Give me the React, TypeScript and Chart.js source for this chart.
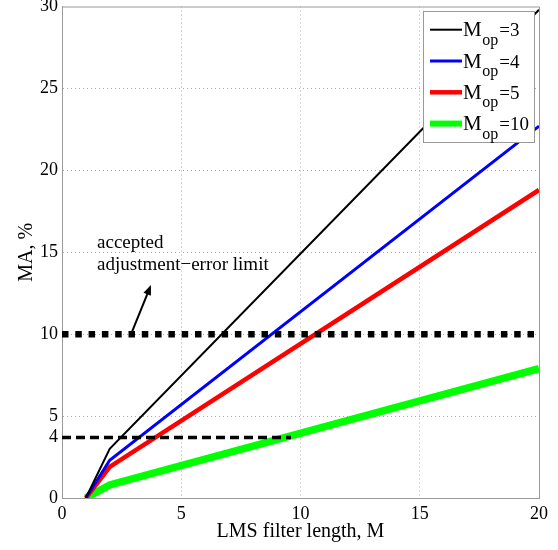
import React, { useEffect, useRef } from "react";
import { Chart, registerables } from "chart.js";

Chart.register(...registerables);

// ---- data ----
const filterLength = [1, 2, 20];
const maMop3 = [0, 3.0, 29.8];
const maMop4 = [0, 2.3, 22.7];
const maMop5 = [0, 1.9, 18.8];
const maMop10 = [0, 0.8, 7.9];
const mopValues = ["3", "4", "5", "10"];
const seriesColors = ["#000000", "#0000ff", "#ff0000", "#00ff00"];
const seriesWidths = [2, 3, 4.5, 7.5];

const limitX = [0, 20];
const limitY = [10, 10];
const limit4X = [0, 9.6];
const limit4Y = [3.7, 3.7];

const yTickValues = [0, 3.7, 5, 10, 15, 20, 25, 30];
const yTickLabels = ["0", "4", "5", "10", "15", "20", "25", "30"];
const yGridValues = [5, 10, 15, 20, 25];
const xGridValues = [5, 10, 15];

const annotationLines = ["accepted", "adjustment\u2212error limit"];
const annotationAnchor = { x: 1.47, y1: 15.26, y2: 13.92 };
const arrowTail = { x: 2.93, y: 10.13 };
const arrowHead = { x: 3.73, y: 13.0 };

const xTitle = "LMS filter length, M";
const yTitle = "MA, %";

const FONT = "'Liberation Serif', 'Times New Roman', serif";

const toPoints = (xs: number[], ys: number[]) => xs.map((x, i) => ({ x, y: ys[i] }));

const overlayPlugin = {
  id: "overlay",
  afterDraw(chart: any) {
    const ctx = chart.ctx as CanvasRenderingContext2D;
    const { left, right, top, bottom } = chart.chartArea;
    const xs = chart.scales.x;
    const ys = chart.scales.y;
    ctx.save();

    // top and right border of axes box
    ctx.strokeStyle = "#999";
    ctx.lineWidth = 1;
    ctx.beginPath();
    ctx.moveTo(left, top + 0.5);
    ctx.lineTo(right + 0.5, top + 0.5);
    ctx.lineTo(right + 0.5, bottom);
    ctx.stroke();

    // annotation text
    ctx.fillStyle = "#000";
    ctx.font = `19px ${FONT}`;
    ctx.textAlign = "left";
    ctx.textBaseline = "alphabetic";
    const ax = xs.getPixelForValue(annotationAnchor.x);
    ctx.fillText(annotationLines[0], ax, ys.getPixelForValue(annotationAnchor.y1));
    ctx.fillText(annotationLines[1], ax, ys.getPixelForValue(annotationAnchor.y2));

    // arrow
    const tx = xs.getPixelForValue(arrowTail.x);
    const ty = ys.getPixelForValue(arrowTail.y);
    const hx = xs.getPixelForValue(arrowHead.x);
    const hy = ys.getPixelForValue(arrowHead.y);
    const ang = Math.atan2(hy - ty, hx - tx);
    ctx.strokeStyle = "#000";
    ctx.lineWidth = 2;
    ctx.beginPath();
    ctx.moveTo(tx, ty);
    ctx.lineTo(hx - Math.cos(ang) * 6, hy - Math.sin(ang) * 6);
    ctx.stroke();
    ctx.beginPath();
    ctx.moveTo(hx, hy);
    ctx.lineTo(hx - Math.cos(ang) * 10 + Math.cos(ang + Math.PI / 2) * 4, hy - Math.sin(ang) * 10 + Math.sin(ang + Math.PI / 2) * 4);
    ctx.lineTo(hx - Math.cos(ang) * 10 - Math.cos(ang + Math.PI / 2) * 4, hy - Math.sin(ang) * 10 - Math.sin(ang + Math.PI / 2) * 4);
    ctx.closePath();
    ctx.fill();

    // axis titles
    ctx.font = `20px ${FONT}`;
    ctx.textAlign = "center";
    ctx.textBaseline = "alphabetic";
    ctx.fillText(xTitle, (left + right) / 2, 537);
    ctx.save();
    ctx.translate(32, (top + bottom) / 2);
    ctx.rotate(-Math.PI / 2);
    ctx.fillText(yTitle, 0, 0);
    ctx.restore();

    // legend
    const bx = 423, by = 11, bw = 111, bh = 131;
    ctx.fillStyle = "#fff";
    ctx.fillRect(bx, by, bw, bh);
    ctx.strokeStyle = "#999";
    ctx.lineWidth = 1;
    ctx.strokeRect(bx + 0.5, by + 0.5, bw, bh);
    mopValues.forEach((m, i) => {
      const ly = 29.7 + i * 31.3;
      ctx.strokeStyle = seriesColors[i];
      ctx.lineWidth = Math.min(seriesWidths[i], 6);
      ctx.beginPath();
      ctx.moveTo(430, ly);
      ctx.lineTo(462, ly);
      ctx.stroke();
      ctx.fillStyle = "#000";
      ctx.textAlign = "left";
      ctx.textBaseline = "alphabetic";
      ctx.font = `21px ${FONT}`;
      let x = 463;
      ctx.fillText("M", x, ly + 6.5);
      x += ctx.measureText("M").width + 0.5;
      ctx.font = `16px ${FONT}`;
      ctx.fillText("op", x, ly + 15);
      x += ctx.measureText("op").width + 1;
      ctx.font = `19px ${FONT}`;
      ctx.fillText("=" + m, x, ly + 6.5);
    });

    ctx.restore();
  },
};

export default function App() {
  const canvasRef = useRef<HTMLCanvasElement | null>(null);

  useEffect(() => {
    if (!canvasRef.current) return;
    const lineDs = (label: string, ys: number[], i: number) => ({
      label,
      data: toPoints(filterLength, ys),
      borderColor: seriesColors[i],
      backgroundColor: seriesColors[i],
      borderWidth: seriesWidths[i],
      pointRadius: 0,
      tension: 0,
      fill: false,
      borderJoinStyle: "miter" as const,
      borderCapStyle: "butt" as const,
    });
    const chart = new Chart(canvasRef.current, {
      type: "line",
      data: {
        datasets: [
          {
            label: "limit10",
            data: toPoints(limitX, limitY),
            borderColor: "#000",
            borderWidth: 6.5,
            borderDash: [6.5, 6.8],
            pointRadius: 0,
            fill: false,
          },
          {
            label: "limit4",
            data: toPoints(limit4X, limit4Y),
            borderColor: "#000",
            borderWidth: 3.5,
            borderDash: [9, 5],
            pointRadius: 0,
            fill: false,
          },
          lineDs("Mop=3", maMop3, 0),
          lineDs("Mop=4", maMop4, 1),
          lineDs("Mop=5", maMop5, 2),
          lineDs("Mop=10", maMop10, 3),
        ],
      },
      options: {
        animation: false,
        responsive: false,
        maintainAspectRatio: false,
        layout: { padding: { top: 6.5, right: 19, left: 0, bottom: 0 } },
        plugins: { legend: { display: false }, tooltip: { enabled: false } },
        scales: {
          x: {
            type: "linear",
            min: 0,
            max: 20,
            afterBuildTicks: (s: any) => {
              s.ticks = [0, 5, 10, 15, 20].map((v) => ({ value: v }));
            },
            ticks: {
              font: { family: FONT, size: 18 },
              color: "#000",
              padding: 5,
              maxRotation: 0,
              autoSkip: false,
            },
            grid: {
              drawTicks: false,
              color: (c: any) => (xGridValues.includes(c.tick?.value) ? "#aaa" : "rgba(0,0,0,0)"),
              lineWidth: 1,
            },
            border: { color: "#999", width: 1, dash: [1, 3] },
            afterFit: (s: any) => {
              s.height = 52;
              s.paddingLeft = 0;
              s.paddingRight = 0;
            },
          },
          y: {
            type: "linear",
            min: 0,
            max: 30,
            afterBuildTicks: (s: any) => {
              s.ticks = yTickValues.map((v) => ({ value: v }));
            },
            ticks: {
              font: { family: FONT, size: 18 },
              color: "#000",
              padding: 4,
              autoSkip: false,
              callback: (v: any) => {
                const idx = yTickValues.indexOf(Number(v));
                return idx >= 0 ? yTickLabels[idx] : "";
              },
            },
            grid: {
              drawTicks: false,
              color: (c: any) => (yGridValues.includes(c.tick?.value) ? "#aaa" : "rgba(0,0,0,0)"),
              lineWidth: 1,
            },
            border: { color: "#999", width: 1, dash: [1, 3] },
            afterFit: (s: any) => {
              s.width = 62;
              s.paddingTop = 0;
              s.paddingBottom = 0;
            },
          },
        },
      },
      plugins: [overlayPlugin],
    } as any);
    return () => chart.destroy();
  }, []);

  return (
    <div style={{ position: "fixed", left: 0, top: 0, width: 558, height: 550, background: "#fff" }}>
      <canvas ref={canvasRef} width={558} height={550} style={{ width: 558, height: 550, display: "block" }} />
    </div>
  );
}
